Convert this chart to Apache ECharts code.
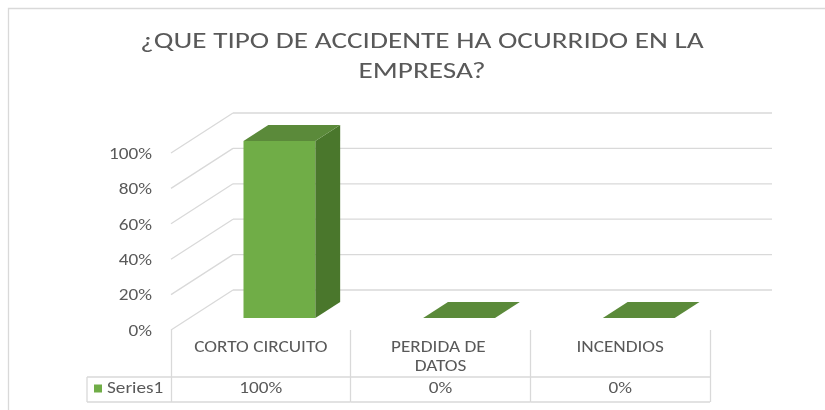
<!DOCTYPE html>
<html>
<head>
<meta charset="utf-8">
<script src="https://cdn.jsdelivr.net/npm/echarts@6/dist/echarts.min.js"></script>
<style>
  html, body { margin: 0; padding: 0; background: #fff; }
  #chart { width: 825px; height: 410px; }
</style>
</head>
<body>
<div id="chart"></div>
<script>
const titleText = '¿QUE TIPO DE ACCIDENTE HA OCURRIDO EN LA\nEMPRESA?';
const categories = ['CORTO CIRCUITO', 'PERDIDA DE DATOS', 'INCENDIOS'];
const seriesName = 'Series1';
const values = [100, 0, 0];
const yTicks = [0, 20, 40, 60, 80, 100];

const FONT = 'Carlito, Lato, sans-serif';
const LABEL_FONT = '15.5px ' + FONT;
const TEXT = '#595959';
const GRID_LINE = '#d9d9d9';
// the reference picture is stretched sideways, so text is too
const LABEL_SX = 1.24;
const TITLE_SX = 1.36;
// depth of the 3D box (oblique projection)
const DX = 62, DY = -40;

const chart = echarts.init(document.getElementById('chart'));

function label(x, y, text, align, extra) {
  return {
    type: 'text', x: x, y: y, scaleX: LABEL_SX,
    style: Object.assign({ text: text, x: 0, y: 0, align: align, verticalAlign: 'middle',
      fill: TEXT, font: LABEL_FONT }, extra || {})
  };
}

// back wall + side wall gridlines, and the value labels on the front edge
function renderGrid(params, api) {
  const v = api.value(0);
  const cs = params.coordSys;
  const y = api.coord([0, v])[1];
  return {
    type: 'group',
    children: [
      { type: 'line', shape: { x1: cs.x, y1: y, x2: cs.x + DX, y2: y + DY },
        style: { stroke: GRID_LINE, lineWidth: 1.3 } },
      { type: 'line', shape: { x1: cs.x + DX, y1: y + DY, x2: cs.x + cs.width + DX, y2: y + DY },
        style: { stroke: GRID_LINE, lineWidth: 1.3 } },
      label(cs.x - 19, y + 2, v + '%', 'right')
    ]
  };
}

// 3D column
function renderBar(params, api) {
  const idx = api.value(0);
  const base = api.coord([idx, 0]);
  const top = api.coord([idx, api.value(1)]);
  const w = api.size([1, 0])[0] * 0.4;
  const dx = DX * 0.4, dy = DY * 0.4;
  const x0 = base[0] - w / 2 + DX * 0.3;
  const yb = base[1] + DY * 0.3;
  const yt = top[1] + DY * 0.3;
  const children = [];
  if (yb - yt > 0.5) {
    children.push({ type: 'polygon', shape: { points: [[x0, yt], [x0 + w, yt], [x0 + w, yb], [x0, yb]] },
      style: { fill: '#70AD47' } });
    children.push({ type: 'polygon', shape: { points: [[x0 + w, yt], [x0 + w + dx, yt + dy], [x0 + w + dx, yb + dy], [x0 + w, yb]] },
      style: { fill: '#4A772C' } });
  }
  children.push({ type: 'polygon', shape: { points: [[x0, yt], [x0 + w, yt], [x0 + w + dx, yt + dy], [x0 + dx, yt + dy]] },
    style: { fill: '#5B8A3A' } });
  return { type: 'group', children: children };
}

// data table under the axis
function renderTable(params, api) {
  const idx = api.value(0);
  const cs = params.coordSys;
  const bw = api.size([1, 0])[0];
  const cx = api.coord([idx, 0])[0];
  const y0 = cs.y + cs.height;
  const r1 = y0 + 47, r2 = y0 + 72;
  const line = (x1, y1, x2, y2) => ({ type: 'line', shape: { x1, y1, x2, y2 },
    style: { stroke: GRID_LINE, lineWidth: 1.3 } });
  const children = [
    line(cx - bw / 2, r1, cx + bw / 2, r1),
    line(cx - bw / 2, r2, cx + bw / 2, r2),
    label(cx, y0 + 9, categories[idx], 'center',
      { verticalAlign: 'top', lineHeight: 19, width: 118, overflow: 'break' }),
    label(cx, (r1 + r2) / 2, api.value(1) + '%', 'center')
  ];
  if (idx === 0) {
    const lx = cs.x - 84;
    children.push(line(lx, r1, cs.x, r1), line(lx, r2, cs.x, r2), line(lx, r1, lx, r2));
    children.push({ type: 'rect', shape: { x: lx + 7, y: (r1 + r2) / 2 - 5, width: 8, height: 8 },
      style: { fill: '#70AD47' } });
    children.push(label(lx + 20, (r1 + r2) / 2, seriesName, 'left'));
  }
  return { type: 'group', children: children };
}

chart.setOption({
  animation: false,
  graphic: [
    { type: 'rect', shape: { x: 8.5, y: 8.5, width: 900, height: 500 },
      style: { fill: 'none', stroke: GRID_LINE, lineWidth: 1.3 }, silent: true },
    { type: 'text', x: 422, y: 28, scaleX: TITLE_SX,
      style: { text: titleText, x: 0, y: 0, align: 'center', fill: TEXT,
        font: '21.5px ' + FONT, lineHeight: 30 } }
  ],
  grid: { left: 171, right: 115, top: 153, bottom: 80 },
  xAxis: {
    type: 'category',
    data: categories,
    axisLine: { show: false },
    axisTick: { show: true, length: 72, lineStyle: { color: GRID_LINE, width: 1.3 } },
    axisLabel: { show: false }
  },
  yAxis: {
    type: 'value',
    min: 0, max: 100, interval: 20,
    axisLine: { show: false },
    axisTick: { show: false },
    splitLine: { show: false },
    axisLabel: { show: false }
  },
  series: [
    { type: 'custom', renderItem: renderGrid, data: yTicks.map(v => [v]), z: 1, silent: true },
    { type: 'custom', name: seriesName, renderItem: renderBar,
      data: values.map((v, i) => [i, v]), z: 3 },
    { type: 'custom', renderItem: renderTable, data: values.map((v, i) => [i, v]), z: 2, silent: true }
  ]
});
</script>
</body>
</html>
